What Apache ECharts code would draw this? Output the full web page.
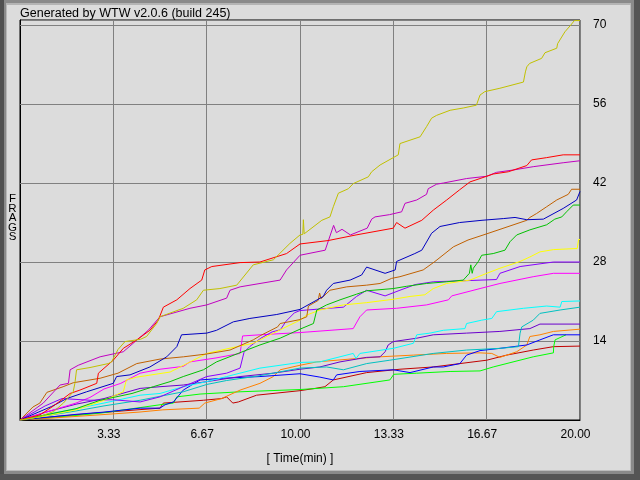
<!DOCTYPE html>
<html><head><meta charset="utf-8">
<script src="https://cdn.jsdelivr.net/npm/echarts@6/dist/echarts.min.js"></script>
<style>html,body{margin:0;padding:0;background:#dcdcdc}#c{width:640px;height:480px}</style>
</head><body><div id="c"></div>
<script>
const titleText = 'Generated by WTW v2.0.6 (build 245)';
const yAxisTitle = 'FRAGS';
const xTickLabels = ['3.33','6.67','10.00','13.33','16.67','20.00'];
const yTickLabels = ['14','28','42','56','70'];

const olive = [[0,0],[0.71,0.6],[1.2,1.5],[1.55,3],[1.9,5],[1.96,6.5],[2.02,8.9],[2.5,9.3],[3.15,10],[3.27,10.3],[3.5,12.5],[3.75,13.9],[4.3,14.3],[4.52,14.8],[4.88,17.1],[5,18.3],[5.83,19.8],[6.31,21.3],[6.55,23],[7.14,23.3],[7.74,23.9],[8.33,27.5],[9.05,28.4],[9.64,31.3],[10,32.8],[10.1,32.9],[10.12,35.5],[10.15,33],[10.78,35.4],[11.07,36],[11.19,37.8],[11.37,40.2],[11.73,41],[11.9,41.9],[12.44,43.1],[12.56,44],[12.86,45.2],[13.51,47],[13.57,49],[14.29,50.2],[14.52,52],[14.7,53.5],[14.88,54],[15.36,54.9],[15.83,55.3],[16.3,55.8],[16.43,57.6],[16.6,58.2],[17.14,58.8],[17.98,59.9],[18.05,61.7],[18.1,62.6],[18.2,63.2],[18.63,64.1],[18.75,65.1],[19.17,65.9],[19.2,66.7],[19.46,68.8],[19.67,70],[19.8,70.8],[20,70.8]];
const red = [[0,0],[0.71,0.9],[1.2,2.5],[1.79,4.7],[2.14,5.3],[2.74,6.5],[2.8,8.3],[3.33,10.6],[3.69,12.7],[4.17,14.2],[4.64,15.9],[4.94,17.7],[5.12,20],[5.6,21.3],[6.07,23.3],[6.49,24.8],[6.6,26.6],[6.85,27.2],[7.86,27.9],[8.57,28],[9.52,29.5],[10,31.2],[11,31.8],[12,32.8],[13.33,34],[13.45,35],[13.75,34],[14.35,35.4],[14.4,35.6],[14.76,37.2],[15.24,39],[15.7,40.8],[16.07,42.2],[16.43,42.8],[16.9,43.6],[17.44,44],[18.1,45.1],[18.27,46.1],[18.8,46.5],[19.4,47],[20,47]];
const violetRed = [[0,0],[0.83,3],[1.43,6.2],[1.73,6.5],[1.79,8.9],[2.08,9.7],[2.86,11.2],[3.69,12.1],[4.58,15.9],[5,18.3],[6.07,19.8],[6.67,20.4],[7.38,21.6],[7.5,23],[7.86,23.6],[9.29,24.8],[9.52,26.6],[10,29.2],[10.9,30.1],[11.2,34.5],[11.3,33.2],[11.5,33.8],[11.8,32.8],[12.4,34],[12.56,35.6],[12.68,36],[13.2,36.4],[13.63,36.9],[13.75,38.4],[14.17,39],[14.52,40],[14.58,41],[14.88,41.8],[15.12,42],[15.95,42.8],[16.67,43.2],[17.02,43.9],[17.6,44.3],[18.33,44.9],[19.4,45.6],[20,45.95]];
const navy = [[0,0],[1.13,2.4],[1.67,3.8],[2.38,5],[3.33,6.5],[3.45,7.7],[3.93,8],[4.64,9.4],[5.24,11.2],[5.6,13],[5.77,15.1],[6.67,15.4],[7.02,15.9],[7.62,17.4],[8.21,18],[9.17,18.7],[10,19.6],[10.83,21.9],[10.95,23],[11.19,24.2],[11.79,24.8],[12.2,25.7],[12.38,27.1],[13.04,26],[13.4,26.6],[13.45,28.1],[14.1,29.5],[14.35,30.1],[14.7,33.1],[15,34.3],[15.7,35],[16.5,35.4],[17.26,35.7],[17.68,35.9],[18.1,35.5],[18.69,35.6],[19.4,37.5],[19.88,39],[20,40.5]];
const brown = [[0,0],[0.46,2.3],[0.71,3],[0.96,4.9],[1.54,5.9],[1.9,6.6],[2.86,7.4],[3.5,8.3],[4.17,10],[5,10.8],[5.84,11.2],[6.67,11.7],[7.5,12.4],[8.33,14.2],[8.6,15],[9.2,16.5],[9.29,17.1],[10,17.8],[10.24,18.3],[10.3,20.2],[10.65,21.2],[10.7,22.5],[10.75,21.5],[11.07,23],[11.67,23.6],[12.38,23.9],[12.86,24.2],[13.27,25.1],[13.57,25.4],[14.4,26.6],[14.82,28.1],[15.48,30.7],[16,31.9],[16.67,33],[18.1,35.4],[18.21,35.9],[18.45,36.6],[18.81,37.8],[19.17,39],[19.58,40],[19.7,40.9],[20,40.9]];
const green = [[0,0],[1,1],[2,2],[2.86,3.5],[4,4.7],[4.76,5.9],[5.36,6.8],[5.83,7.7],[6.55,8.9],[7.02,10.3],[8.1,12.4],[8.57,13.3],[9.29,14.5],[10,16.1],[10.48,17.1],[10.6,19.5],[10.95,20.4],[11.43,21.3],[12.02,22.3],[12.38,22.9],[13.33,23.3],[13.81,23.7],[14.52,24.2],[15.24,24.5],[15.83,24.8],[16.05,26],[16.1,27.5],[16.15,26],[16.19,26.9],[16.37,28.1],[16.49,29.2],[16.9,29.5],[17.32,30.1],[17.5,31.6],[17.74,32.8],[18.21,33.7],[18.81,34.6],[19.1,35.6],[19.35,36],[19.52,36.9],[19.76,38.1],[20,38.1]];
const yellow = [[0,0],[1,0.8],[2,1.8],[3,3.5],[3.69,5],[3.8,7.1],[4.17,7.6],[5.36,8.5],[5.96,10],[6.67,11.8],[7.74,13],[8.33,13.6],[9.05,15.4],[10,17.7],[10.24,18.6],[10.71,19.5],[11.55,20.4],[12.38,20.8],[13.33,21.4],[13.93,21.9],[14.46,22.2],[14.76,23.3],[15.24,24.2],[16.07,24.8],[16.67,26],[17.14,26.9],[17.86,28.1],[18.21,28.9],[18.57,29.8],[19.05,30.2],[19.9,30.4],[19.95,32],[20,32]];
const violet = [[0,0],[0.9,2.5],[1.5,3.8],[2.5,3.5],[3.3,3.6],[4.29,3.2],[5,4.1],[5.83,5.9],[6.67,7.7],[7.38,8.3],[7.86,9.2],[8,12],[8.2,13],[8.6,14.5],[9,15.6],[9.3,16],[9.5,17.5],[9.8,19],[10,19.4],[11.55,20],[12.02,21.9],[12.38,23],[13.04,22],[13.57,23],[14.11,24],[14.76,24.5],[15.95,24.7],[17.02,24.9],[17.14,26],[17.86,27.2],[19.05,28],[20,28]];
const magenta = [[0,0],[1,1.5],[2,3],[2.5,4],[3,5.5],[3.6,6.5],[4.29,8.3],[5,9],[5.83,9.5],[6.07,10.3],[7,11],[7.86,11.8],[7.95,14.9],[8.57,15.1],[10,15.5],[11.9,16.2],[12.14,18.3],[12.38,19.5],[13.45,19.8],[14.52,20.4],[15.3,21.3],[15.42,22],[16.43,23.3],[17.14,24.2],[18.33,25.4],[19.05,26],[20,26]];
const cyan = [[0,0],[1,1],[2,2],[3,3],[4.29,4.4],[5,4.7],[5.83,5.9],[6.67,6.8],[7.38,7.7],[8.57,9.2],[10,10.2],[10.71,10.3],[11.9,11.8],[12.0,10.9],[12.14,11.8],[13.33,12.7],[14.05,13.6],[14.17,15.1],[14.64,15.4],[15.12,15.9],[15.89,16.2],[15.95,17.1],[16.49,17.7],[16.85,18],[17.02,19.2],[17.98,19.8],[18.81,20.2],[19.29,20],[19.35,21],[20,21.1]];
const teal = [[0,0],[1,0.8],[2,1.6],[3,2.5],[4.29,3.5],[5,4.2],[5.83,5],[6.67,6.3],[7.38,7],[8.5,7.8],[10,9.2],[10.95,9.4],[11.55,8.9],[12.38,10],[13.21,10.6],[14.76,11.8],[15.95,12.4],[17.14,12.7],[17.8,13],[17.86,15.4],[17.92,16.5],[18.33,17.7],[18.57,18.9],[19.29,19.5],[20,20]];
const purple = [[0,0],[1,1.5],[2,2.8],[3,3.8],[4.29,5.6],[5,5.9],[5.83,6.2],[6.67,6.8],[7.86,7.7],[9.05,8.3],[10,9],[10.71,9.4],[11.43,10.3],[12.38,11.1],[12.86,11.2],[13.04,12.1],[13.15,13.3],[13.33,13.9],[14.17,14.5],[14.76,15.1],[15.95,15.4],[17.14,15.7],[18.21,16.2],[18.57,17],[20,17]];
const orange = [[0,0],[1,0.3],[2.5,0.8],[4.25,1.4],[5.1,1.8],[6.4,2.1],[6.6,3],[7.2,3.8],[7.86,5.3],[8.57,6.5],[9.05,7.7],[9.29,8.9],[10,9.7],[10.6,10.3],[11.79,10.8],[12.86,11.2],[14.05,11.5],[15.24,11.8],[16.43,11.9],[16.85,11.8],[17.14,11.1],[17.74,12.1],[18.1,13.3],[18.21,14.8],[18.57,15.1],[19.05,15.7],[20,16.1]];
const blue = [[0,0],[1,0.5],[2,1],[3,1.4],[4.29,2.1],[5,2.1],[5.18,2.7],[5.48,3.2],[5.83,5.3],[6.43,7.1],[7.26,7.4],[8.57,7.7],[10,8.2],[10.71,7.6],[11.19,7.1],[11.31,8],[12.14,8.6],[13.33,8.9],[13.93,8.4],[14.76,9.4],[15.12,9.4],[15.71,10],[15.95,11.5],[16.43,12.3],[17.14,12.7],[18.1,13.3],[18.57,14.2],[19.05,15.1],[20,15.1]];
const darkRed = [[0,0],[1,0.5],[2.64,1.2],[3.64,1.6],[5,2.1],[5.12,3],[6.55,3.5],[7.2,3.8],[7.38,4.1],[7.6,3],[7.8,3.2],[8.45,4.4],[10,5.2],[10.54,5.6],[10.89,5.9],[11.19,7.1],[12.38,8.4],[13.57,9],[14.76,9.4],[15.71,10],[16.67,10.6],[17.38,11.5],[18.33,12.4],[19.05,13],[20,13.1]];
const lime = [[0,0],[1,0.4],[2,0.8],[3,1.3],[4.29,2.2],[5,2.7],[5.48,3],[5.6,4.1],[6.43,4.6],[7.86,5],[10,5.4],[11.55,5.9],[13.21,7.1],[13.35,8.1],[14.17,8.3],[15.36,8.6],[16.43,8.7],[16.9,9.4],[18.33,11.2],[19.05,11.9],[19.06,13],[19.11,14.2],[19.5,15.1]];

const seriesList = [
  ['darkRed', darkRed, '#c00000'],
  ['lime', lime, '#00ff00'],
  ['orange', orange, '#ff8000'],
  ['blue', blue, '#0000ff'],
  ['purple', purple, '#6a00cc'],
  ['teal', teal, '#00c0c0'],
  ['cyan', cyan, '#00ffff'],
  ['magenta', magenta, '#ff00ff'],
  ['violet', violet, '#8800ff'],
  ['yellow', yellow, '#ffff00'],
  ['green', green, '#00c000'],
  ['brown', brown, '#c06000'],
  ['navy', navy, '#0000c0'],
  ['violetRed', violetRed, '#c000c0'],
  ['red', red, '#ff0000'],
  ['olive', olive, '#c0c000']
];

const FONT = '"Liberation Sans", Arial, sans-serif';
const frame = [
  [0, 0, 640, 3, '#8a8a8a'], [0, 3, 640, 2, '#b4b4b4'],
  [0, 0, 4, 480, '#505050'], [4, 3, 2, 474, '#8a8a8a'], [6, 5, 1, 466, '#b8b8b8'],
  [634, 0, 6, 480, '#555555'], [631, 3, 3, 474, '#8a8a8a'], [630, 5, 1, 466, '#bcbcbc'],
  [0, 474, 640, 6, '#555555'], [4, 471, 630, 3, '#8a8a8a'], [7, 470, 623, 1, '#bcbcbc']
].map(([x, y, w, h, c]) => ({type: 'rect', shape: {x, y, width: w, height: h}, style: {fill: c}, silent: true}));
const fragsLetters = yAxisTitle.split('').map((ch, i) => ({
  type: 'text', x: 12.5, y: 199 + i * 9.5,
  style: {text: ch, font: '11.5px ' + FONT, fill: '#000', align: 'center', verticalAlign: 'middle'}, silent: true
}));

const chart = echarts.init(document.getElementById('c'), null, {renderer: 'canvas'});
chart.setOption({
  animation: false,
  backgroundColor: '#dcdcdc',
  title: {text: titleText, left: 15, top: 2, textStyle: {fontSize: 12.5, fontWeight: 'normal', color: '#000', fontFamily: FONT}},
  grid: {left: 20, right: 60, top: 20, bottom: 60, show: true, borderColor: '#000', borderWidth: 1, backgroundColor: 'transparent'},
  xAxis: {
    type: 'value', min: 0, max: 20, interval: 20/6,
    name: '[ Time(min) ]', nameLocation: 'middle', nameGap: 33,
    nameTextStyle: {fontSize: 12, color: '#000', fontFamily: FONT},
    axisLine: {show: true, lineStyle: {color: '#000'}},
    axisTick: {show: false},
    splitLine: {show: true, lineStyle: {color: '#808080', width: 1}},
    axisLabel: {showMinLabel: false, margin: 9, fontSize: 12, color: '#000', fontFamily: FONT, padding: [0, 9, 0, 0],
      formatter: v => { const i = Math.round(v / (20/6)) - 1; return xTickLabels[i] || ''; }}
  },
  yAxis: {
    type: 'value', position: 'right', min: 0, max: 70.9, interval: 14,
    axisLine: {show: true, lineStyle: {color: '#000'}},
    axisTick: {show: true, length: 10, lineStyle: {color: '#808080'}},
    splitLine: {show: true, lineStyle: {color: '#808080', width: 1}},
    axisLabel: {showMinLabel: false, showMaxLabel: false, margin: 13, fontSize: 12, color: '#000', fontFamily: FONT,
      formatter: v => { const i = Math.round(v / 14) - 1; return (Math.abs(v - Math.round(v / 14) * 14) < 0.01) ? (yTickLabels[i] || '') : ''; }}
  },
  graphic: frame.concat(fragsLetters),
  series: seriesList.map(([name, data, color]) => ({
    name, type: 'line', data, symbol: 'none', showSymbol: false, silent: true,
    lineStyle: {color, width: 1}, z: 3
  }))
});
</script></body></html>
